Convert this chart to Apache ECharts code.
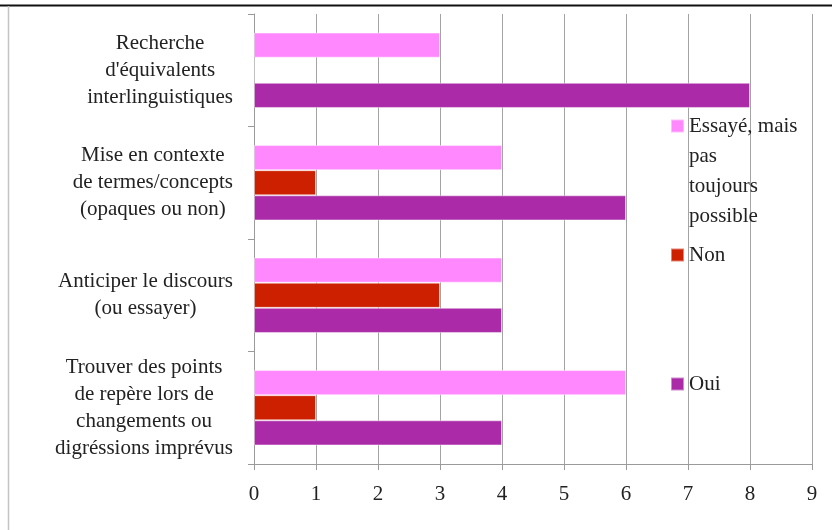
<!DOCTYPE html>
<html>
<head>
<meta charset="utf-8">
<script src="https://cdn.jsdelivr.net/npm/echarts@6/dist/echarts.min.js"></script>
<style>
  html, body { margin: 0; padding: 0; background: #fff; }
  #chart { width: 832px; height: 530px; }
</style>
</head>
<body>
<div id="chart"></div>
<script>
  // categories, top to bottom
  let categories = [
    "Recherche\nd'équivalents\ninterlinguistiques",
    'Mise en contexte\nde termes/concepts\n(opaques ou non)',
    'Anticiper le discours\n(ou essayer)',
    'Trouver des points\nde repère lors de\nchangements ou\ndigréssions imprévus'
  ];
  let seriesNames = ['Essayé, mais pas toujours possible', 'Non', 'Oui'];
  let essaye = [3, 4, 4, 6];
  let non = [0, 1, 3, 1];
  let oui = [8, 6, 4, 4];
  let xTicks = [0, 9, 1]; // min, max, interval

  let colors = ['#ff88ff', '#cc2000', '#aa2aa8'];
  let serif = 'Liberation Serif';

  let myChart = echarts.init(document.getElementById('chart'));

  function makeBar(name, data) {
    return {
      name: name,
      type: 'bar',
      data: data,
      barGap: '0%',
      barCategoryGap: '33%',
      itemStyle: {
        borderColor: 'rgba(255,255,255,0.45)',
        borderWidth: 1
      }
    };
  }

  // le bloc est aligné à droite, chaque ligne centrée dans le bloc
  function centerLines(value) {
    return value.split('\n').map(function (l) { return '{c|' + l + '}'; }).join('\n');
  }

  let legendText = { fontFamily: serif, fontSize: 21, color: '#222', lineHeight: 30 };

  let option = {
    animation: false,
    color: colors,
    textStyle: { fontFamily: serif },
    grid: { left: 254, right: 20, top: 14, bottom: 66 },
    legend: [
      {
        data: [seriesNames[0]],
        left: 665, top: 16,
        icon: 'rect', itemWidth: 13, itemHeight: 13,
        // lignes vides en tête pour caler la première ligne sur le carré
        formatter: function () { return '\n\n\nEssayé, mais\npas\ntoujours\npossible'; },
        textStyle: legendText
      },
      {
        data: [seriesNames[1]],
        left: 665, top: 235,
        icon: 'rect', itemWidth: 13, itemHeight: 13,
        textStyle: legendText
      },
      {
        data: [seriesNames[2]],
        left: 665, top: 364,
        icon: 'rect', itemWidth: 13, itemHeight: 13,
        textStyle: legendText
      }
    ],
    xAxis: {
      type: 'value',
      min: xTicks[0],
      max: xTicks[1],
      interval: xTicks[2],
      axisLine: { show: true, lineStyle: { color: '#9a9a9a', width: 1 } },
      axisTick: { show: true, length: 6, lineStyle: { color: '#9a9a9a' } },
      axisLabel: { fontFamily: serif, fontSize: 21, color: '#222', margin: 20 },
      splitLine: { show: true, lineStyle: { color: '#a4a4a4', width: 1 } }
    },
    yAxis: {
      type: 'category',
      inverse: true,
      data: categories,
      axisLine: { show: true, lineStyle: { color: '#9a9a9a', width: 1 } },
      axisTick: { show: true, length: 6, lineStyle: { color: '#9a9a9a' } },
      axisLabel: {
        align: 'right', margin: 21,
        formatter: centerLines,
        rich: {
          c: { fontFamily: serif, fontSize: 21, color: '#222', lineHeight: 27, align: 'center' }
        }
      },
      splitLine: { show: false }
    },
    graphic: [
      { type: 'line', shape: { x1: 0, y1: 5.5, x2: 832, y2: 5.5 }, style: { stroke: '#111', lineWidth: 2 } },
      { type: 'line', shape: { x1: 8.5, y1: 6, x2: 8.5, y2: 530 }, style: { stroke: '#c4c4c4', lineWidth: 1.5 } }
    ],
    series: [
      makeBar(seriesNames[0], essaye),
      makeBar(seriesNames[1], non),
      makeBar(seriesNames[2], oui)
    ]
  };

  myChart.setOption(option);
  window.addEventListener('resize', function () { myChart.resize(); });
</script>
</body>
</html>
